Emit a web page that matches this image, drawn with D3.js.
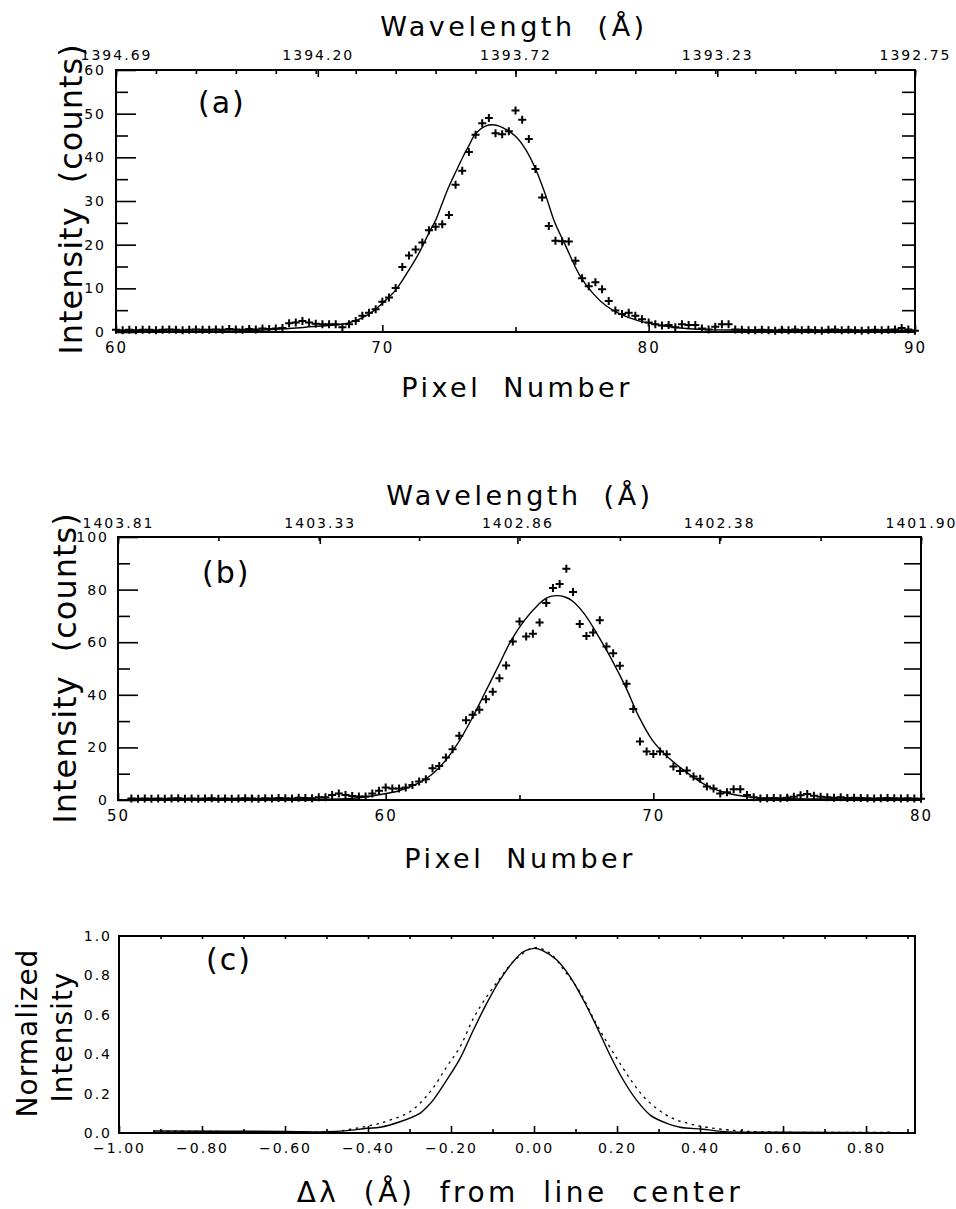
<!DOCTYPE html>
<html>
<head>
<meta charset="utf-8">
<script src="https://cdn.jsdelivr.net/npm/d3@7"></script>
<style>
  body { margin: 0; background: #fff; }
  svg { display: block; }
  .tick text { font-family: "DejaVu Sans", sans-serif; fill: #000; }
  .title { font-family: "DejaVu Sans", sans-serif; fill: #000; }
</style>
</head>
<body>
<svg id="chart"></svg>
<script>
// panel (a): Si IV 1393 line, counts every 0.25 pixel from pixel 60
const pixelStartA = 60;
const pixelStepA = 0.25;
const countsA = [
  0.5, 0.4, 0.5, 0.4, 0.5, 0.5, 0.4, 0.5, 0.6, 0.5, 0.4, 0.5, 0.6, 0.5, 0.5, 0.6,
  0.5, 0.7, 0.6, 0.5, 0.7, 0.6, 0.8, 0.7, 0.8, 0.9,
  2.0, 2.2, 2.5, 2.2, 1.9, 1.8, 1.8,
  1.8, 1.1, 1.8, 2.5, 3.7, 4.4, 5.2, 6.9, 7.9, 10.1, 14.9, 17.5, 18.9, 20.5, 23.3,
  24.1, 24.7, 26.8, 33.7, 36.9, 41.2, 45.2, 47.8, 49.0, 45.5, 45.3, 46.0, 50.7, 48.6,
  44.2, 37.3, 30.8, 24.3, 20.9, 20.8, 20.7, 16.3, 12.3, 10.5, 11.4, 9.8, 7.1, 4.9,
  4.1, 4.4, 3.7, 2.9, 2.2, 1.8, 1.5, 1.6, 1.1, 1.8, 1.6, 1.6, 0.8, 0.6, 1.2, 1.8,
  1.8, 0.6,
  0.5, 0.4, 0.4, 0.5, 0.4, 0.3, 0.5, 0.4, 0.6, 0.4, 0.5, 0.4, 0.3, 0.5, 0.6, 0.4,
  0.5, 0.4, 0.3, 0.4, 0.5, 0.4, 0.5, 0.6, 0.9, 0.6, 0.3
];
const fitPixelA = [60, 65, 66.5, 67.5, 68, 68.7, 69.5, 70, 70.5, 71, 71.37, 71.75, 72, 72.25,
  72.5, 72.76, 73, 73.26, 73.51, 73.89, 74.23, 74.64, 75.02, 75.39, 75.77, 76.15, 76.45,
  76.9, 77.4, 77.9, 78.4, 79, 79.6, 80.2, 80.8, 81.4, 82, 83, 90];
const fitCountsA = [0.3, 0.3, 0.8, 1.3, 1.5, 2.0, 4.1, 6.6, 9.6, 14.2, 18.0, 22.7, 25.6, 29.5,
  33.3, 36.7, 39.8, 42.8, 45.5, 47.2, 47.4, 46.4, 44.7, 41.7, 37.1, 31.0, 25.5,
  19.5, 13.1, 8.9, 6.0, 3.9, 2.6, 1.8, 1.2, 0.8, 0.6, 0.45, 0.4];
const waveTicksA = [1394.69, 1394.20, 1393.72, 1393.23, 1392.75];

// panel (b): Si IV 1403 line
const pixelStartB = 50.5;
const pixelStepB = 0.25;
const countsB = [
  0.6, 0.5, 0.6, 0.5, 0.6, 0.5, 0.6, 0.7, 0.5, 0.6, 0.5, 0.6, 0.7, 0.5, 0.6, 0.5,
  0.6, 0.7, 0.6, 0.5, 0.7, 0.6, 0.8, 0.7, 0.6, 0.9, 0.8,
  0.7, 1.0, 1.0, 1.9, 2.5, 1.9, 1.5, 1.3, 1.3, 2.5, 3.5, 4.8, 4.4, 4.4, 4.8, 5.7,
  7.0, 7.9, 12.1, 12.9, 16.2, 19.3, 24.4, 30.3, 32.4, 34.3, 38.3, 41.2, 46.3, 51.1,
  60.3, 67.9, 62.2, 63.2, 67.5, 74.9, 80.6, 82.1, 87.9, 79.1, 66.9, 62.4, 63.7, 68.3,
  58.4, 55.8, 51.0, 44.2, 34.6, 22.2, 18.4, 17.5, 18.4, 17.4, 12.7, 11.0, 11.2, 8.9,
  8.1, 5.1, 4.4, 2.5, 2.9, 4.1, 4.1, 1.9, 1.0,
  0.6, 0.7, 0.8, 0.7, 0.9, 1.2, 1.8, 2.3, 1.6, 1.2, 1.0, 0.9, 1.0, 0.8, 0.9, 0.8,
  0.7, 0.6, 0.7, 0.8, 0.7, 0.6, 0.7, 0.6, 0.5
];
const fitPixelB = [50.5, 57.5, 58.7, 59.7, 60.5, 61.2, 61.7, 62.2, 62.7, 63.2, 63.7, 64.2,
  64.7, 65.2, 65.7, 66, 66.35, 66.7, 67, 67.45, 67.95, 68.45, 68.96, 69.46, 69.96, 70.46,
  70.96, 71.46, 71.96, 72.46, 73.08, 73.7, 74.5, 80];
const fitCountsB = [0.3, 0.3, 0.6, 1.9, 3.5, 6.3, 9.5, 14.6, 21.6, 30.5, 40.6, 50.7,
  60.9, 68.5, 74.2, 76.8, 77.7, 77.2, 75.5, 70.4, 62.2, 53.3, 43.1, 31.7, 22.8, 17.1,
  12.7, 8.9, 5.7, 3.5, 1.9, 1.0, 0.6, 0.4];
const waveTicksB = [1403.81, 1403.33, 1402.86, 1402.38, 1401.90];

// panel (c): normalized profiles vs offset from line centre
const dlSolid = [-0.918, -0.6, -0.5, -0.45, -0.403, -0.371, -0.323, -0.275, -0.259, -0.243,
  -0.21, -0.178, -0.146, -0.114, -0.082, -0.05, -0.026, 0, 0.022, 0.055, 0.087, 0.119,
  0.151, 0.183, 0.215, 0.247, 0.28, 0.32, 0.352, 0.406, 0.46, 0.6, 0.864];
const normSolid = [0.01, 0.008, 0.006, 0.012, 0.024, 0.029, 0.057, 0.10, 0.13, 0.167,
  0.27, 0.379, 0.523, 0.658, 0.777, 0.87, 0.92, 0.937, 0.925, 0.878, 0.793, 0.675,
  0.54, 0.396, 0.269, 0.167, 0.091, 0.049, 0.029, 0.019, 0.007, 0.004, 0.002];
const dlDashed = [-0.918, -0.6, -0.48, -0.443, -0.379, -0.355, -0.299, -0.25, -0.21, -0.178,
  -0.146, -0.114, -0.082, -0.05, 0, 0.039, 0.075, 0.111, 0.143, 0.175, 0.207, 0.239,
  0.272, 0.312, 0.344, 0.37, 0.40, 0.5, 0.864];
const normDashed = [0.01, 0.006, 0.007, 0.019, 0.045, 0.06, 0.108, 0.21, 0.337, 0.438,
  0.582, 0.692, 0.785, 0.87, 0.94, 0.912, 0.819, 0.715, 0.582, 0.463, 0.354, 0.252,
  0.167, 0.1, 0.066, 0.05, 0.035, 0.01, 0.004];

const width = 956, height = 1209;
const svg = d3.select("#chart").attr("width", width).attr("height", height);

const toPoints = (xs, ys) => xs.map((x, i) => ({ x, y: ys[i] }));
const gridPoints = (start, step, ys) => ys.map((y, i) => ({ x: start + step * i, y }));

// one framed panel, IDL style: inward ticks on all four sides
function panel(cfg) {
  const x = d3.scaleLinear().domain(cfg.xDomain).range([cfg.left, cfg.right]);
  const y = d3.scaleLinear().domain(cfg.yDomain).range([cfg.bottom, cfg.top]);
  const g = svg.append("g");

  // bottom axis
  g.append("g")
    .attr("transform", `translate(0,${cfg.bottom})`)
    .call(d3.axisBottom(x).tickValues(cfg.xMinor).tickSize(-cfg.xMinorLen).tickFormat(""))
    .call((s) => s.select(".domain").remove());
  g.append("g")
    .attr("transform", `translate(0,${cfg.bottom})`)
    .call(d3.axisBottom(x).tickValues(cfg.xMajor).tickSize(-cfg.xMajorLen)
      .tickPadding(cfg.xPad).tickFormat(cfg.xFormat))
    .call((s) => s.select(".domain").remove())
    .selectAll("text").style("font-size", cfg.xFont + "px").style("letter-spacing", "2px");
  // top axis with small ticks
  g.append("g")
    .attr("transform", `translate(0,${cfg.top})`)
    .call(d3.axisTop(x).tickValues(cfg.xTopMinor).tickSize(-3).tickFormat(""))
    .call((s) => s.select(".domain").remove());

  // left axis
  g.append("g")
    .attr("transform", `translate(${cfg.left},0)`)
    .call(d3.axisLeft(y).tickValues(cfg.yMinor).tickSize(-cfg.yMinorLen).tickFormat(""))
    .call((s) => s.select(".domain").remove());
  g.append("g")
    .attr("transform", `translate(${cfg.left},0)`)
    .call(d3.axisLeft(y).tickValues(cfg.yMajor).tickSize(-cfg.yMajorLen)
      .tickPadding(cfg.yPad).tickFormat(cfg.yFormat))
    .call((s) => s.select(".domain").remove())
    .selectAll("text").style("font-size", "14px").style("letter-spacing", "2px");
  // right axis
  g.append("g")
    .attr("transform", `translate(${cfg.right},0)`)
    .call(d3.axisRight(y).tickValues(cfg.yRight).tickSize(-cfg.yRightLen).tickFormat(""))
    .call((s) => s.select(".domain").remove());

  g.selectAll(".tick line").attr("stroke", "#000").attr("stroke-width", 1.6);

  // frame
  g.append("rect")
    .attr("x", cfg.left).attr("y", cfg.top)
    .attr("width", cfg.right - cfg.left).attr("height", cfg.bottom - cfg.top)
    .attr("fill", "none").attr("stroke", "#000").attr("stroke-width", 2);

  // panel letter
  g.append("text").attr("class", "title")
    .attr("x", cfg.tagX).attr("y", cfg.tagY)
    .style("font-size", "30px").style("letter-spacing", "2px")
    .text(cfg.tag);

  return { g, x, y };
}

// wavelength axis printed along the top of panels (a) and (b)
function waveAxis(p, cfg, waves, minorPerMajor) {
  const w = d3.scaleLinear().domain([waves[0], waves[waves.length - 1]]).range([cfg.left, cfg.right]);
  const step = (waves[waves.length - 1] - waves[0]) / ((waves.length - 1) * minorPerMajor);
  const minor = d3.range(0, (waves.length - 1) * minorPerMajor + 1).map((i) => waves[0] + step * i);
  p.g.append("g")
    .attr("transform", `translate(0,${cfg.top})`)
    .call(d3.axisTop(w).tickValues(minor).tickSize(-4).tickFormat(""))
    .call((s) => s.select(".domain").remove())
    .selectAll("line").attr("stroke", "#000").attr("stroke-width", 1.6);
  p.g.append("g")
    .attr("transform", `translate(0,${cfg.top})`)
    .call(d3.axisTop(w).tickValues(waves).tickSize(-7).tickPadding(cfg.topPad).tickFormat(d3.format(".2f")))
    .call((s) => s.select(".domain").remove())
    .call((s) => s.selectAll("line").attr("stroke", "#000").attr("stroke-width", 1.6))
    .selectAll("text").style("font-size", "14px").style("letter-spacing", "2px");
}

function crosses(p, pts) {
  p.g.append("g").selectAll("path")
    .data(pts)
    .join("path")
    .attr("transform", (d) => `translate(${p.x(d.x)},${p.y(d.y)})`)
    .attr("d", "M-4,0H4M0,-4V4")
    .attr("stroke", "#000").attr("stroke-width", 2).attr("fill", "none");
}

function curve(p, pts, dash) {
  p.g.append("path")
    .datum(pts)
    .attr("d", d3.line().x((d) => p.x(d.x)).y((d) => p.y(d.y)).curve(d3.curveCatmullRom))
    .attr("fill", "none").attr("stroke", "#000")
    .attr("stroke-width", dash ? 1.3 : 1.4)
    .attr("stroke-dasharray", dash ? "2.5,4.5" : null);
}

function label(text, x, yPos, size, rotate, spacing, wordSpacing) {
  svg.append("text").attr("class", "title")
    .attr("text-anchor", "middle")
    .attr("transform", rotate ? `translate(${x},${yPos}) rotate(-90)` : `translate(${x},${yPos})`)
    .style("font-size", size + "px")
    .style("letter-spacing", spacing + "px")
    .style("word-spacing", wordSpacing + "px")
    .text(text);
}

// ---- (a)
const cfgA = {
  left: 116, right: 915, top: 70, bottom: 332, xDomain: [60, 90], yDomain: [0, 60],
  xMajor: [60, 70, 80, 90], xMinor: [65, 75, 85], xMajorLen: 7, xMinorLen: 5,
  xTopMinor: [], xPad: 10, xFont: 15, xFormat: d3.format("d"),
  yMajor: d3.range(0, 61, 10), yMinor: d3.range(5, 60, 10), yMajorLen: 20, yMinorLen: 12,
  yRight: d3.range(5, 60, 5), yRightLen: 13, yPad: 10, yFormat: d3.format("d"),
  tag: "(a)", tagX: 198, tagY: 113, topPad: 10
};
const pA = panel(cfgA);
waveAxis(pA, cfgA, waveTicksA, 5);
curve(pA, toPoints(fitPixelA, fitCountsA), false);
crosses(pA, gridPoints(pixelStartA, pixelStepA, countsA));
label("Wavelength (Å)", 514, 36, 27, false, 3.5, 10);
label("Pixel Number", 517, 397, 27, false, 3.5, 10);
label("Intensity (counts)", 82, 199, 32, true, 1, 12);

// ---- (b)
const cfgB = {
  left: 118, right: 921, top: 537, bottom: 800, xDomain: [50, 80], yDomain: [0, 100],
  xMajor: [50, 60, 70, 80], xMinor: [55, 65, 75], xMajorLen: 7, xMinorLen: 5,
  xTopMinor: [], xPad: 10, xFont: 15, xFormat: d3.format("d"),
  yMajor: d3.range(0, 101, 20), yMinor: d3.range(10, 100, 20), yMajorLen: 20, yMinorLen: 12,
  yRight: d3.range(10, 100, 10), yRightLen: 17, yPad: 9, yFormat: d3.format("d"),
  tag: "(b)", tagX: 202, tagY: 583, topPad: 9
};
const pB = panel(cfgB);
waveAxis(pB, cfgB, waveTicksB, 2);
curve(pB, toPoints(fitPixelB, fitCountsB), false);
crosses(pB, gridPoints(pixelStartB, pixelStepB, countsB));
label("Wavelength (Å)", 520, 505, 27, false, 3.5, 10);
label("Pixel Number", 520, 868, 27, false, 3.5, 10);
label("Intensity (counts)", 76, 668, 32, true, 1, 12);

// ---- (c)
const fmtC = (d) => d3.format(".2f")(d).replace("-", "\u2212");
const cfgC = {
  left: 119, right: 915, top: 936, bottom: 1133, xDomain: [-1, 0.918], yDomain: [0, 1],
  xMajor: d3.range(-10, 9, 2).map((d) => d / 10), xMinor: d3.range(-9, 10, 2).map((d) => d / 10),
  xMajorLen: 7, xMinorLen: 4,
  xTopMinor: d3.range(-9, 10, 1).map((d) => d / 10), xPad: 10, xFont: 14, xFormat: fmtC,
  yMajor: d3.range(0, 11, 2).map((d) => d / 10), yMinor: [], yMajorLen: 0, yMinorLen: 0,
  yRight: [], yRightLen: 0, yPad: 7, yFormat: d3.format(".1f"),
  tag: "(c)", tagX: 206, tagY: 970, topPad: 8
};
const pC = panel(cfgC);
curve(pC, toPoints(dlDashed, normDashed), true);
curve(pC, toPoints(dlSolid, normSolid), false);
label("\u0394\u03bb (Å) from line center", 520, 1202, 28, false, 3.5, 12);
label("Normalized", 37, 1033, 28, true, 1, 0);
label("Intensity", 72, 1037, 28, true, 1, 0);
</script>
</body>
</html>
